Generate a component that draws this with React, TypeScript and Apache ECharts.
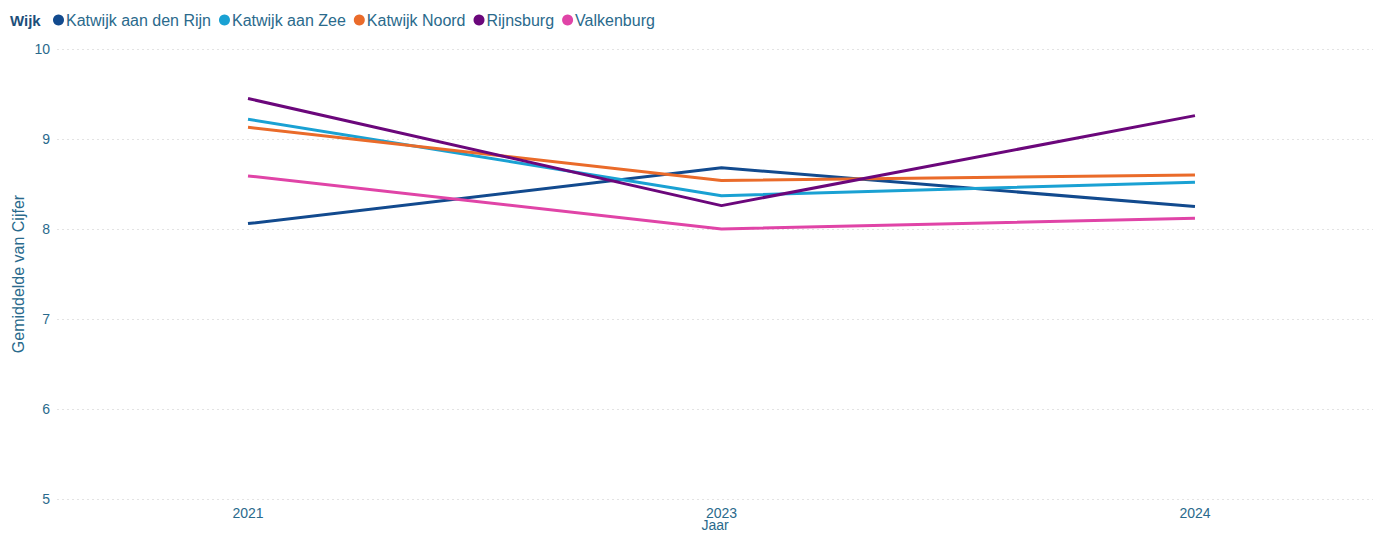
import React, { useEffect, useRef } from "react";
import * as echarts from "echarts";

const years = ["2021", "2023", "2024"];
const seriesNames = ["Katwijk aan den Rijn", "Katwijk aan Zee", "Katwijk Noord", "Rijnsburg", "Valkenburg"];
const rijn = [8.06, 8.68, 8.25];
const zee = [9.22, 8.37, 8.52];
const noord = [9.13, 8.54, 8.6];
const rijnsburg = [9.45, 8.26, 9.26];
const valkenburg = [8.59, 8.0, 8.12];
const colors = ["#124A8E", "#1AA1D3", "#EA6B2A", "#6B077B", "#E044A7"];
const yTicks = [5, 6, 7, 8, 9, 10];

const FONT = "Liberation Sans, Arial, sans-serif";
const TEXT = "#2A6A8C";

export default function App() {
  const ref = useRef<HTMLDivElement>(null);
  useEffect(() => {
    if (!ref.current) return;
    const chart = echarts.init(ref.current, undefined, { renderer: "svg" });
    const all = [rijn, zee, noord, rijnsburg, valkenburg];
    chart.setOption({
      animation: false,
      textStyle: { fontFamily: FONT },
      graphic: [
        {
          type: "text",
          left: 10,
          top: 13,
          style: { text: "Wijk", font: `bold 15px ${FONT}`, fill: "#1D4F7A" },
        },
      ],
      legend: {
        left: 53,
        top: 12,
        icon: "circle",
        itemWidth: 11,
        itemHeight: 11,
        itemGap: 8,
        padding: 0,
        textStyle: { color: TEXT, fontSize: 16, fontFamily: FONT, padding: [0, 0, 0, -3] },
        data: seriesNames,
      },
      grid: {
        left: 57,
        right: 0,
        top: 49,
        bottom: 36,
        containLabel: false,
        outerBoundsMode: "none",
      },
      xAxis: {
        type: "value",
        min: -0.4034,
        max: 2.376,
        name: "Jaar",
        nameLocation: "middle",
        nameGap: 19,
        nameMoveOverlap: false,
        nameTextStyle: { color: TEXT, fontSize: 14, fontFamily: FONT },
        axisLine: { show: false },
        axisTick: { show: false },
        splitLine: { show: false },
        axisLabel: {
          customValues: [0, 1, 2],
          formatter: (v: number) => years[Math.round(v)] ?? "",
          color: TEXT,
          fontSize: 14,
          margin: 7,
          fontFamily: FONT,
        },
      },
      yAxis: {
        type: "value",
        min: 5,
        max: 10,
        interval: 1,
        name: "Gemiddelde van Cijfer",
        nameLocation: "middle",
        nameGap: 31,
        nameMoveOverlap: false,
        nameTextStyle: { color: TEXT, fontSize: 16, fontFamily: FONT },
        axisLine: { show: false },
        axisTick: { show: false },
        axisLabel: {
          color: TEXT,
          fontSize: 14,
          margin: 7,
          fontFamily: FONT,
          formatter: (v: number) => (yTicks.includes(v) ? String(v) : ""),
        },
        splitLine: { show: true, lineStyle: { color: "#E3E3E3", type: [2, 3], width: 1 } },
      },
      series: seriesNames.map((name, i) => ({
        name,
        type: "line",
        showSymbol: false,
        symbol: "circle",
        lineStyle: { width: 3, color: colors[i] },
        itemStyle: { color: colors[i] },
        data: all[i].map((v, j) => [j, v]),
      })),
    });
    return () => chart.dispose();
  }, []);
  return (
    <div
      ref={ref}
      style={{ position: "fixed", left: 0, top: 0, width: 1373, height: 535, background: "#fff" }}
    />
  );
}
